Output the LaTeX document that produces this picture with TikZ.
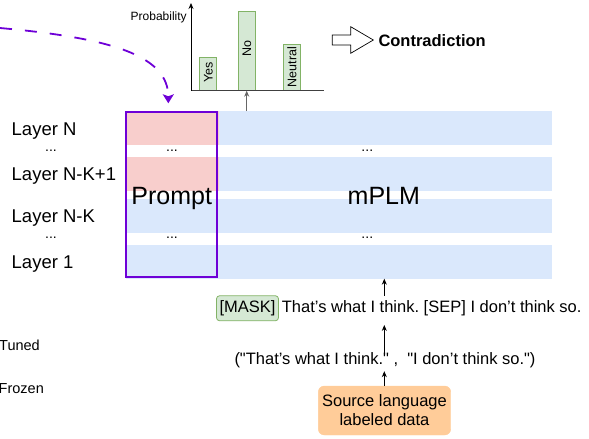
\documentclass[tikz,border=0pt]{standalone}
\usepackage{fontspec}
\setmainfont{Liberation Sans}[Ligatures=TeXOff]
\usetikzlibrary{arrows.meta}
\frenchspacing
\definecolor{bandblue}{HTML}{DAE8FC}
\definecolor{bandpink}{HTML}{F8CECC}
\definecolor{barfill}{HTML}{D5E8D4}
\definecolor{barline}{HTML}{82B366}
\definecolor{srcfill}{HTML}{FFCC99}
\definecolor{promptpurple}{RGB}{110,0,215}
\newcommand{\fs}[1]{\fontsize{#1}{#1}\selectfont}
\tikzset{
  bandbox/.style={fill=bandblue, draw=none, inner sep=0pt, anchor=north west, minimum width=426.4pt},
  pinkbox/.style={fill=bandpink, draw=none, inner sep=0pt, anchor=north west, minimum width=93pt},
  layerlbl/.style={anchor=base west, inner sep=0pt, font=\fs{18.5}},
  dotlbl/.style={anchor=base, inner sep=0pt, font=\fs{14}},
  bigtxt/.style={anchor=base, inner sep=0pt, font=\fs{25}},
  barbox/.style={fill=barfill, draw=barline, line width=0.8pt},
  barlbl/.style={rotate=90, inner sep=0pt, font=\fs{12.5}},
  arr/.style={-{Stealth[length=6pt,width=5pt]}, line width=0.8pt},
  sent/.style={inner xsep=0pt, inner ysep=4.75pt, text height=12pt, text depth=3.5pt, font=\fs{16.5}},
}
\begin{document}
\begin{tikzpicture}[x=1pt,y=-1pt]
\useasboundingbox (0,0) rectangle (589,439);
% layer bands
\node[bandbox, minimum height=34pt] (b1) at (125.3,111) {};
\node[bandbox, minimum height=34pt] (b2) at (125.3,156.7) {};
\node[bandbox, minimum height=33.7pt] (b3) at (125.3,199) {};
\node[bandbox, minimum height=33.3pt] (b4) at (125.3,245) {};
\node[pinkbox, minimum height=34pt] (p1) at (125.3,111) {};
\node[pinkbox, minimum height=34pt] (p2) at (125.3,156.7) {};
% prompt frame
\node[draw=promptpurple, line width=2pt, inner sep=0pt, minimum width=91pt, minimum height=165.3pt] (prompt) at (171.8,194.65) {};
\node[bigtxt] (prompttxt) at (171.7,204.3) {Prompt};
\node[bigtxt] (plm) at (383.8,204) {mPLM};
\node[dotlbl] (pd1) at (172,151) {...};
\node[dotlbl] (pd2) at (172,238) {...};
\node[dotlbl] (md1) at (367.3,151) {...};
\node[dotlbl] (md2) at (367.3,238) {...};
% layer labels
\node[layerlbl] (lN) at (11.5,135) {Layer N};
\node[dotlbl] (ld1) at (51,151) {...};
\node[layerlbl] (lNK1) at (11.5,180) {Layer N-K+1};
\node[layerlbl] (lNK) at (11.5,222.3) {Layer N-K};
\node[dotlbl] (ld2) at (51,238) {...};
\node[layerlbl] (l1) at (11.5,268.3) {Layer 1};
% legend remnants
\node[anchor=west, inner sep=0pt, font=\fs{14.5}] (tuned) at (-1,345) {Tuned};
\node[anchor=west, inner sep=0pt, font=\fs{14.5}] (frozen) at (-1.5,388.3) {Frozen};
% chart
\coordinate (O) at (191,90.7);
\coordinate (ytop) at (191,3);
\coordinate (xend) at (324,90.7);
\coordinate (axisin) at (246.7,90.7);
\node[barbox, inner sep=0pt, minimum width=17.4pt, minimum height=33.4pt] (byes) at (208,74) {};
\node[barbox, inner sep=0pt, minimum width=17.4pt, minimum height=79pt] (bno) at (247,51.2) {};
\node[barbox, inner sep=0pt, minimum width=16.7pt, minimum height=46.4pt] (bneu) at (291.65,67.5) {};
\node[barlbl] at (208.3,72.5) {Yes};
\node[barlbl] at (247,49) {No};
\node[barlbl] at (291.8,67) {Neutral};
\draw[line width=0.8pt, black!75] (O) -- (xend);
\draw[arr] (O) -- (ytop);
\node[anchor=base, inner sep=0pt, font=\fs{12}] (prob) at (158.7,20) {Probability};
\draw[arr, black!60] (b1.north -| axisin) -- (axisin);
% block arrow and result
\draw[line width=0.7pt, fill=white] (332.3,35) -- (350.7,35) -- (350.7,26.7) -- (373.3,40) -- (350.7,53.3) -- (350.7,45) -- (332.3,45) -- cycle;
\node[anchor=base west, inner sep=0pt, font=\bfseries\fs{16.5}] (res) at (378.3,46) {Contradiction};
% dashed purple arrow
\coordinate (dstart) at (0,28);
\coordinate (dend) at (168.3,103.3);
\draw[promptpurple, line width=1.8pt, dash pattern=on 12pt off 13pt, -{Stealth[length=9pt,width=11pt,inset=2pt]}]
  (dstart) .. controls (110,38) and (168.3,55) .. (dend);
% bottom input pipeline
\coordinate (colx) at (384.3,0);
\node[sent, fill=barfill, draw=barline, line width=0.8pt, rounded corners=3pt, inner xsep=3pt, minimum width=58.4pt] (mask) at (247.5,308.25) {[MASK]};
\node[sent, anchor=west] (maskrest) at (281.7,308.25) {That’s what I think. [SEP] I don’t think so.};
\node[sent, inner ysep=3pt] (tuple) at (385,360.25) {("That’s what I think." ,\ \ "I don’t think so.")};
\node[fill=srcfill, draw=srcfill, rounded corners=6pt, inner sep=0pt, minimum width=132.4pt, minimum height=49pt] (src) at (384.5,410.5) {};
\node[anchor=base, inner sep=0pt, font=\fs{16.5}] (srcl1) at (384.5,406.7) {Source language};
\node[anchor=base, inner sep=0pt, font=\fs{16.5}] (srcl2) at (384.5,425.7) {labeled data};
\draw[arr] (maskrest.north -| colx) -- (b4.south -| colx);
\draw[arr, shorten <=-6pt, shorten >=4pt] (tuple.north -| colx) -- (maskrest.south -| colx);
\draw[arr] (src.north -| colx) -- (tuple.south -| colx);
\end{tikzpicture}
\end{document}
